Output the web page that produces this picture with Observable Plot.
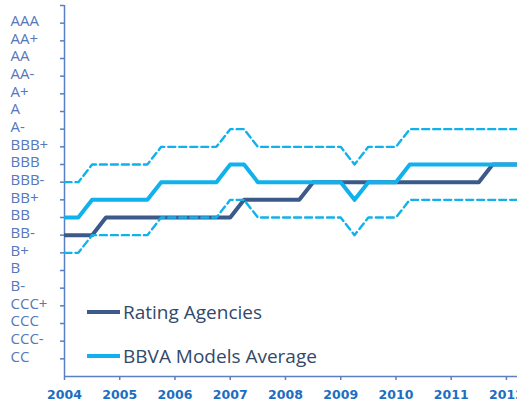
<!DOCTYPE html>
<html>
<head>
<meta charset="utf-8">
<script src="https://cdn.jsdelivr.net/npm/d3@7"></script>
<script src="https://cdn.jsdelivr.net/npm/@observablehq/plot@0.6"></script>
<style>
  html, body { margin: 0; padding: 0; background: #fff; overflow: hidden; }
  #wrap { position: relative; width: 517px; height: 401px; }
  #legend { position: absolute; left: 0; top: 0; font-family: "Open Sans", sans-serif; font-size: 19px; color: #33496a; }
  .item { position: absolute; display: flex; align-items: center; white-space: nowrap; }
  .item svg { display: block; margin-right: 3px; }
</style>
</head>
<body>
<div id="wrap"></div>
<script>
// Rating scale, lowest to highest
const ratings = ["CC","CCC-","CCC","CCC+","B-","B","B+","BB-","BB","BB+","BBB-","BBB","BBB+","A-","A","A+","AA-","AA","AA+","AAA"];
const years = [2004, 2005, 2006, 2007, 2008, 2009, 2010, 2011, 2012];
const quarters = [2004, 2004.25, 2004.5, 2004.75, 2005, 2005.25, 2005.5, 2005.75,
  2006, 2006.25, 2006.5, 2006.75, 2007, 2007.25, 2007.5, 2007.75,
  2008, 2008.25, 2008.5, 2008.75, 2009, 2009.25, 2009.5, 2009.75,
  2010, 2010.25, 2010.5, 2010.75, 2011, 2011.25, 2011.5, 2011.75, 2012, 2012.25];
const agencies = ["BB-","BB-","BB-","BB","BB","BB","BB","BB",
  "BB","BB","BB","BB","BB","BB+","BB+","BB+",
  "BB+","BB+","BBB-","BBB-","BBB-","BBB-","BBB-","BBB-",
  "BBB-","BBB-","BBB-","BBB-","BBB-","BBB-","BBB-","BBB","BBB","BBB"];
const bbva = ["BB","BB","BB+","BB+","BB+","BB+","BB+","BBB-",
  "BBB-","BBB-","BBB-","BBB-","BBB","BBB","BBB-","BBB-",
  "BBB-","BBB-","BBB-","BBB-","BBB-","BB+","BBB-","BBB-",
  "BBB-","BBB","BBB","BBB","BBB","BBB","BBB","BBB","BBB","BBB"];
const bbvaUpper = ["BBB-","BBB-","BBB","BBB","BBB","BBB","BBB","BBB+",
  "BBB+","BBB+","BBB+","BBB+","A-","A-","BBB+","BBB+",
  "BBB+","BBB+","BBB+","BBB+","BBB+","BBB","BBB+","BBB+",
  "BBB+","A-","A-","A-","A-","A-","A-","A-","A-","A-"];
const bbvaLower = ["B+","B+","BB-","BB-","BB-","BB-","BB-","BB",
  "BB","BB","BB","BB","BB+","BB+","BB","BB",
  "BB","BB","BB","BB","BB","BB-","BB","BB",
  "BB","BB+","BB+","BB+","BB+","BB+","BB+","BB+","BB+","BB+"];
const seriesNames = ["Rating Agencies", "BBVA Models Average"];

const axisColor = "#5a7fc2";
const yLabelColor = "#5577bb";
const xLabelColor = "#1b6ec2";
const darkBlue = "#3b5a8a";
const lightBlue = "#10b1ec";

const lvl = r => ratings.indexOf(r) + 1;
const yTickVals = ratings.map((r, i) => i + 1).concat([ratings.length + 1]);

const chart = Plot.plot({
  width: 517,
  height: 401,
  marginLeft: 64,
  marginRight: 0,
  marginTop: 5,
  marginBottom: 25,
  x: {domain: [2004, 2012.2]},
  y: {domain: [0, ratings.length + 1]},
  style: {background: "transparent"},
  marks: [
    Plot.axisY({ticks: yTickVals, tickSize: 4, tickFormat: () => "", stroke: axisColor, strokeWidth: 1.5}),
    Plot.axisX({ticks: years, tickSize: 4, tickFormat: () => "", stroke: axisColor, strokeWidth: 1.5}),
    Plot.ruleX([2004], {y1: 0, y2: ratings.length + 1, stroke: axisColor, strokeWidth: 1.5}),
    Plot.ruleY([0], {stroke: axisColor, strokeWidth: 1.5}),
    Plot.text(ratings, {x: () => 2004, y: (d, i) => i + 1, text: d => d, textAnchor: "start", dx: -54, dy: -2,
      fill: yLabelColor, fontSize: 15, fontFamily: "Open Sans"}),
    Plot.text(years, {x: d => d, y: () => 0, dy: 18, text: d => String(d), fill: xLabelColor,
      fontSize: 12.5, fontWeight: "bold", fontFamily: "DejaVu Sans"}),
    Plot.line(quarters, {x: d => d, y: (d, i) => lvl(agencies[i]), stroke: darkBlue, strokeWidth: 4, clip: true}),
    Plot.line(quarters, {x: d => d, y: (d, i) => lvl(bbva[i]), stroke: lightBlue, strokeWidth: 4, clip: true}),
    Plot.line(quarters, {x: d => d, y: (d, i) => lvl(bbvaUpper[i]), stroke: lightBlue, strokeWidth: 2.4, strokeDasharray: "7,4", clip: true}),
    Plot.line(quarters, {x: d => d, y: (d, i) => lvl(bbvaLower[i]), stroke: lightBlue, strokeWidth: 2.4, strokeDasharray: "7,4", clip: true})
  ]
});

const wrap = document.getElementById("wrap");
wrap.appendChild(chart);

const legend = document.createElement("div");
legend.id = "legend";
const legendColors = [darkBlue, lightBlue];
const legendTops = [298, 342];
seriesNames.forEach((name, i) => {
  const item = document.createElement("div");
  item.className = "item";
  item.style.left = "87px";
  item.style.top = legendTops[i] + "px";
  item.style.height = "28px";
  item.innerHTML = `<svg width="33" height="6"><line x1="0" y1="3" x2="33" y2="3" stroke="${legendColors[i]}" stroke-width="4"/></svg><span>${name}</span>`;
  legend.appendChild(item);
});
wrap.appendChild(legend);
</script>
</body>
</html>
